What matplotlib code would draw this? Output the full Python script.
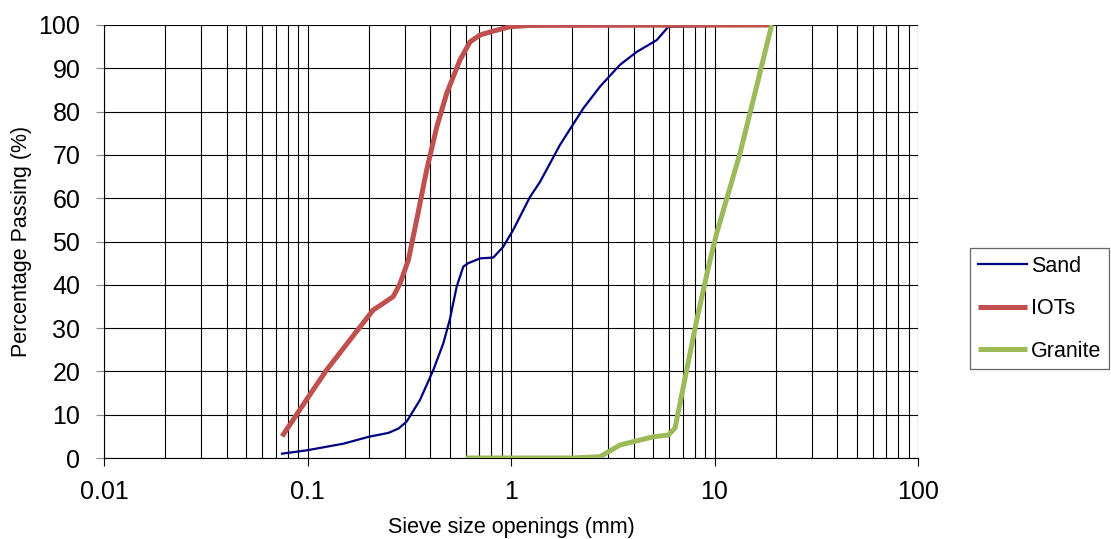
import matplotlib
matplotlib.use("Agg")
import matplotlib.pyplot as plt
from matplotlib.ticker import LogLocator, FixedLocator, NullFormatter

plt.rcParams['font.family'] = ['Liberation Sans', 'DejaVu Sans']

# ---- data ----
sand_x = [0.075, 0.1, 0.15, 0.2, 0.25, 0.28, 0.307, 0.357, 0.415, 0.465, 0.5, 0.541,
          0.583, 0.617, 0.705, 0.819, 0.916, 1.026, 1.24, 1.39, 1.74, 2.27, 2.74, 3.43,
          4.15, 5.2, 5.93, 19.0]
sand_y = [1, 1.8, 3.3, 4.9, 5.8, 6.8, 8.4, 13.4, 20.3, 26.5, 31.9, 39.6,
          44.2, 45.0, 46.1, 46.3, 48.8, 52.7, 60.3, 63.8, 72.3, 80.8, 85.8, 90.8,
          93.8, 96.5, 99.6, 100]

iots_x = [0.075, 0.1, 0.124, 0.15, 0.2105, 0.227, 0.264, 0.285, 0.313, 0.344, 0.385,
          0.432, 0.483, 0.521, 0.561, 0.629, 0.705, 0.819, 0.989, 1.24, 19.0]
iots_y = [5, 13.8, 20.3, 25.3, 34.2, 35.2, 37.3, 40.3, 45.7, 55, 66.5,
          76.5, 84.2, 88.1, 91.9, 96.1, 97.7, 98.6, 99.6, 99.9, 100]

granite_x = [0.6, 2.0, 2.74, 3.43, 5.0, 5.93, 6.4, 7.03, 8.18, 9.51, 10.25, 13.35,
             16.1, 19.1]
granite_y = [0, 0, 0.3, 3, 4.9, 5.3, 6.9, 16.5, 31.9, 45.7, 51.9, 70.4,
             85.8, 100]

x_ticks = [0.01, 0.1, 1, 10, 100]
x_tick_labels = ['0.01', '0.1', '1', '10', '100']
y_ticks = list(range(0, 101, 10))

# ---- figure ----
fig = plt.figure(figsize=(11.11, 5.39), dpi=100)
ax = fig.add_axes([104 / 1111, 1 - 458 / 539, (918 - 104) / 1111, (458 - 25) / 539])

ax.plot(sand_x, sand_y, color='#000080', linewidth=1.6, label='Sand', zorder=3)
ax.plot(iots_x, iots_y, color='#C0504D', linewidth=3.6, label='IOTs',
        solid_capstyle='butt', solid_joinstyle='round', zorder=4)
ax.plot(granite_x, granite_y, color='#9BBB59', linewidth=3.6, label='Granite',
        solid_capstyle='butt', solid_joinstyle='round', zorder=5)

ax.set_xscale('log')
ax.set_xlim(0.01, 100)
ax.set_ylim(0, 100)

ax.xaxis.set_major_locator(FixedLocator(x_ticks))
ax.set_xticklabels(x_tick_labels)
ax.xaxis.set_minor_locator(LogLocator(base=10, subs=range(2, 10), numticks=20))
ax.xaxis.set_minor_formatter(NullFormatter())
ax.set_yticks(y_ticks)

ax.grid(True, which='both', axis='x', color='black', linewidth=0.8)
ax.grid(True, which='major', axis='y', color='black', linewidth=0.8)
ax.set_axisbelow(True)

ax.tick_params(axis='x', which='major', direction='out', length=6, width=0.8,
               labelsize=18, pad=10, color='black')
ax.tick_params(axis='x', which='minor', length=0)
ax.tick_params(axis='y', direction='out', length=6, width=0.8, labelsize=18,
               pad=11, color='#888888')

for side in ['top', 'right']:
    ax.spines[side].set_visible(False)
ax.spines['left'].set_linewidth(0.8)
ax.spines['bottom'].set_linewidth(0.8)

ax.set_xlabel('Sieve size openings (mm)', fontsize=15.5, labelpad=9)
ax.set_ylabel('Percentage Passing (%)', fontsize=15.5, labelpad=5)

leg = ax.legend(loc='upper left', bbox_to_anchor=(970 / 1111, 1 - 248 / 539),
                bbox_transform=fig.transFigure, fontsize=15.5, frameon=True,
                fancybox=False, edgecolor='#404040', handlelength=2.3,
                handletextpad=0.2, labelspacing=1.0, borderpad=0.35,
                borderaxespad=0)
leg.get_frame().set_linewidth(0.9)

fig.savefig('out.png', dpi=100)
